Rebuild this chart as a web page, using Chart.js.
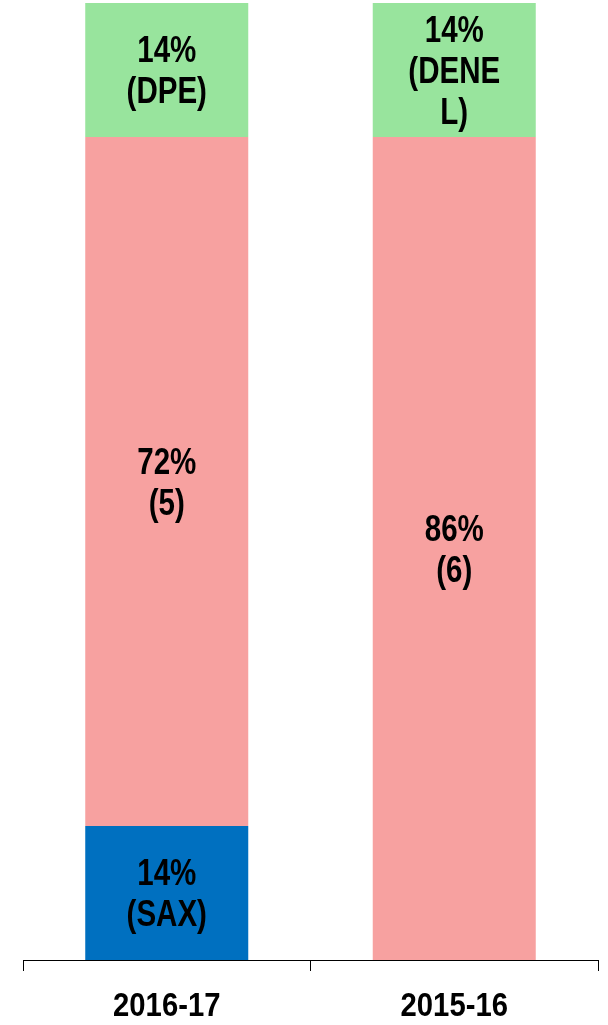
<!DOCTYPE html>
<html>
<head>
<meta charset="utf-8">
<script src="https://cdn.jsdelivr.net/npm/chart.js@4"></script>
<style>
  html, body { margin: 0; padding: 0; background: #fff; overflow: hidden; }
  #wrap { width: 608px; height: 1025px; }
</style>
</head>
<body>
<div id="wrap"><canvas id="shareChart"></canvas></div>
<script>
// categories and values
const years = ['2016-17', '2015-16'];
const saxShare = [14, null];
const otherShare = [72, 86];
const topShare = [14, 14];
// text shown inside each segment (line by line)
const saxText = [['14%', '(SAX)'], null];
const otherText = [['72%', '(5)'], ['86%', '(6)']];
const topText = [['14%', '(DPE)'], ['14%', '(DENE', 'L)']];

const FONT = "'Liberation Sans', Arial, sans-serif";

// squeeze text horizontally so it looks like a narrow bold face
function narrowText(ctx, text, x, y, squeeze) {
    ctx.save();
    ctx.translate(x, y);
    ctx.scale(squeeze, 1);
    ctx.fillText(text, 0, 0);
    ctx.restore();
}

// segment labels and category labels
const narrowLabels = {
    id: 'narrowLabels',
    afterDraw(chart) {
        const ctx = chart.ctx;
        ctx.save();
        ctx.fillStyle = '#000';
        ctx.textAlign = 'center';
        ctx.textBaseline = 'middle';
        ctx.font = 'bold 36px ' + FONT;
        chart.data.datasets.forEach((ds, i) => {
            const meta = chart.getDatasetMeta(i);
            meta.data.forEach((bar, j) => {
                const lines = ds.segText[j];
                if (!lines) return;
                const cy = (bar.y + bar.base) / 2 + 3;
                const lh = 41;
                const y0 = cy - (lines.length - 1) * lh / 2;
                lines.forEach((t, k) => narrowText(ctx, t, bar.x, y0 + k * lh, 0.82));
            });
        });
        ctx.font = 'bold 34px ' + FONT;
        const xs = chart.scales.x;
        chart.data.labels.forEach((lab, i) => {
            narrowText(ctx, lab, xs.getPixelForTick(i), xs.top + 47, 0.86);
        });
        ctx.restore();
    }
};

new Chart(document.getElementById('shareChart'), {
    type: 'bar',
    data: {
        labels: years,
        datasets: [
            { data: saxShare, segText: saxText, backgroundColor: '#0070C0' },
            { data: otherShare, segText: otherText, backgroundColor: '#F7A1A0' },
            { data: topShare, segText: topText, backgroundColor: '#98E49D' }
        ]
    },
    options: {
        responsive: true,
        maintainAspectRatio: false,
        animation: false,
        layout: { padding: { left: 23, right: 10, top: 3, bottom: 0 } },
        datasets: {
            bar: { categoryPercentage: 1, barPercentage: 0.567, borderWidth: 0 }
        },
        plugins: {
            legend: { display: false },
            tooltip: { enabled: false }
        },
        scales: {
            x: {
                stacked: true,
                offset: true,
                grid: {
                    offset: true,
                    drawOnChartArea: false,
                    drawTicks: true,
                    tickLength: 11,
                    color: '#000'
                },
                border: { display: true, color: '#000', width: 1 },
                ticks: { display: false },
                afterFit(scale) { scale.height = 65; }
            },
            y: {
                stacked: true,
                display: false,
                min: 0,
                max: 100
            }
        }
    },
    plugins: [narrowLabels]
});
</script>
</body>
</html>
